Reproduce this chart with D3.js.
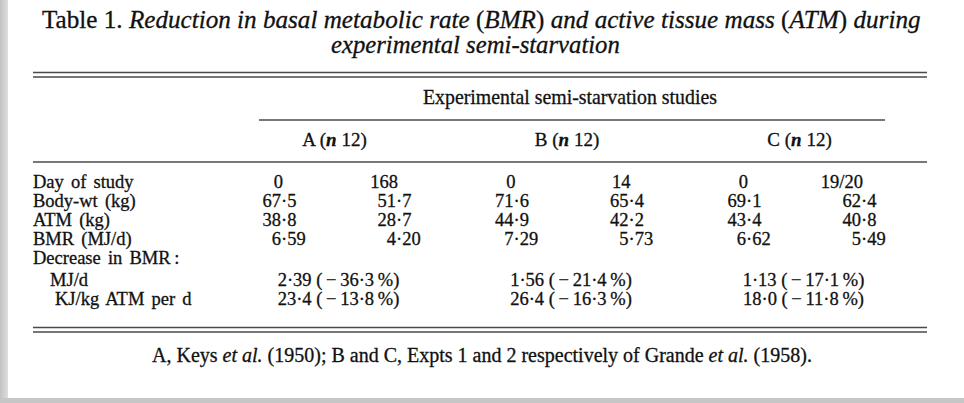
<!DOCTYPE html>
<html>
<head>
<meta charset="utf-8">
<script src="https://cdn.jsdelivr.net/npm/d3@7"></script>
<style>
  body { margin: 0; background: #fff; }
  svg { display: block; }
  text { font-family: "Liberation Serif", "Times New Roman", serif; fill: #111; stroke: #111; stroke-width: 0.3px; }
</style>
</head>
<body>
<div id="chart"></div>
<script>
// table content
const groups = ['A', 'B', 'C'];
const groupN = [12, 12, 12];
const rowLabels = ['Day of study', 'Body-wt (kg)', 'ATM (kg)', 'BMR (MJ/d)',
  'Decrease in BMR\u2009:', 'MJ/d', 'KJ/kg ATM per d'];
const dayOfStudy = [['0', '168'], ['0', '14'], ['0', '19/20']];
const bodyWt = [[67.5, 51.7], [71.6, 65.4], [69.1, 62.4]];
const atm = [[38.8, 28.7], [44.9, 42.2], [43.4, 40.8]];
const bmr = [[6.59, 4.20], [7.29, 5.73], [6.62, 5.49]];
const decreaseMJ = [[2.39, -36.3], [1.56, -21.4], [1.13, -17.1]];
const decreaseKJ = [[23.4, -13.8], [26.4, -16.3], [18.0, -11.8]];

const titleLine1 = [['Table 1. ', 0], ['Reduction in basal metabolic rate ', 1], ['(', 0], ['BMR', 1], [') ', 0],
  ['and active tissue mass ', 1], ['(', 0], ['ATM', 1], [') ', 0], ['during', 1]];
const titleLine2 = [['experimental semi-starvation', 1]];
const spanner = 'Experimental semi-starvation studies';
const footnote = [['A, Keys ', 0], ['et al.', 1], [' (1950); B and C, Expts 1 and 2 respectively of Grande ', 0],
  ['et al.', 1], [' (1958).', 0]];

const W = 964, H = 403;
const bodySize = 18.5;
const labelIndent = [0, 0, 0, 0, 0, 17, 22];

const svg = d3.select('#chart').append('svg').attr('width', W).attr('height', H);

// scan edges
const grad = svg.append('defs').append('linearGradient').attr('id', 'edge');
grad.append('stop').attr('offset', '0%').attr('stop-color', '#c2c2c2');
grad.append('stop').attr('offset', '100%').attr('stop-color', '#dedede');
svg.append('rect').attr('x', 0).attr('y', 0).attr('width', 8).attr('height', H).attr('fill', 'url(#edge)');
svg.append('rect').attr('x', 0).attr('y', 398).attr('width', W).attr('height', H - 398).attr('fill', '#c6c6c6');

// column decimal points and rows
const x = d3.scalePoint().domain(groups).range([281, 746]);
const colOffset = 115;
const colX = (g, c) => x(g) + c * colOffset;
const midX = g => x(g) + colOffset / 2;
const y = d3.scaleLinear().domain([0, 1]).range([187.5, 206.5]);
const rowY = i => y(i + (i >= 5 ? 0.2 : 0));

const ruleL = 33, ruleR = 927;
const rule = (yy, x0 = ruleL, x1 = ruleR, w = 1.6) => svg.append('line')
  .attr('x1', x0).attr('x2', x1).attr('y1', yy).attr('y2', yy)
  .attr('stroke', '#4a4a4a').attr('stroke-width', w);

function runs(sel, parts) {
  sel.selectAll('tspan').data(parts).join('tspan')
    .attr('font-style', d => d[1] ? 'italic' : null)
    .text(d => d[0]);
  return sel;
}

// stretch a text line to span x0..x1
function fit(sel, x0, x1, yy) {
  const w = sel.node().getComputedTextLength();
  sel.attr('x', 0).attr('y', 0).attr('text-anchor', 'start')
    .attr('transform', `translate(${x0},${yy}) scale(${(x1 - x0) / w},1)`);
}

// title
const t1 = runs(svg.append('text').attr('font-size', 25), titleLine1);
fit(t1, 42, 921, 28);
const t2 = runs(svg.append('text').attr('font-size', 25), titleLine2);
fit(t2, 331, 620, 53);

// rules
rule(72.5); rule(77);
rule(120, x(groups[0]) - 22, colX(groups[2], 1) + 24, 1.5);
rule(162, ruleL, ruleR, 1.4);
rule(327.5); rule(332);

// spanner and group heads
const sp = svg.append('text').attr('font-size', 20).text(spanner);
fit(sp, 423, 717, 104);

const heads = svg.selectAll('text.head').data(groups).join('text')
  .attr('class', 'head').attr('font-size', 19).attr('text-anchor', 'middle')
  .attr('x', d => midX(d) - 4).attr('y', 146);
heads.append('tspan').text(d => d + ' (');
heads.append('tspan').attr('font-style', 'italic').attr('font-weight', 'bold').text('n');
heads.append('tspan').text((d, i) => ' ' + groupN[i] + ')');

// row labels
svg.selectAll('text.label').data(rowLabels).join('text')
  .attr('class', 'label').attr('font-size', bodySize).attr('word-spacing', 2.5)
  .attr('x', (d, i) => ruleL + labelIndent[i]).attr('y', (d, i) => rowY(i))
  .text(d => d);

// day of study (aligned on the units digit)
const dayCells = [];
groups.forEach((g, gi) => dayOfStudy[gi].forEach((v, c) => dayCells.push({ g, c, v })));
svg.selectAll('text.day').data(dayCells).join('text')
  .attr('class', 'day').attr('font-size', bodySize).attr('text-anchor', 'end')
  .attr('x', d => colX(d.g, d.c) + 2).attr('y', rowY(0))
  .text(d => d.v);

// decimal aligned numeric rows
const numRows = [[bodyWt, 1], [atm, 1], [bmr, 2]];
const numCells = [];
numRows.forEach(([vals, dec], r) => groups.forEach((g, gi) => vals[gi].forEach((v, c) => {
  const s = v.toFixed(dec).split('.');
  numCells.push({ g, c, row: r + 1, int: s[0], frac: s[1] });
})));
const cell = svg.selectAll('g.num').data(numCells).join('g').attr('class', 'num')
  .attr('transform', d => `translate(${colX(d.g, d.c)},${rowY(d.row)})`);
cell.append('text').attr('font-size', bodySize).attr('text-anchor', 'end').text(d => d.int);
cell.append('text').attr('font-size', bodySize).attr('text-anchor', 'start').text(d => '\u00b7' + d.frac);

// decrease rows
const mid = s => s.replace('.', '\u00b7');
const decText = (v, dec) => `${mid(v[0].toFixed(dec))} (\u2009\u2212\u2009${mid(Math.abs(v[1]).toFixed(1))}\u2009%)`;
const decCells = [];
groups.forEach((g, gi) => {
  decCells.push({ g, row: 5, s: decText(decreaseMJ[gi], 2) });
  decCells.push({ g, row: 6, s: decText(decreaseKJ[gi], 1) });
});
svg.selectAll('text.dec').data(decCells).join('text')
  .attr('class', 'dec').attr('font-size', bodySize).attr('text-anchor', 'middle')
  .attr('x', d => midX(d.g)).attr('y', d => rowY(d.row))
  .text(d => d.s);

// footnote
const fn = runs(svg.append('text').attr('font-size', 20), footnote);
fit(fn, 152, 812, 362);
</script>
</body>
</html>
